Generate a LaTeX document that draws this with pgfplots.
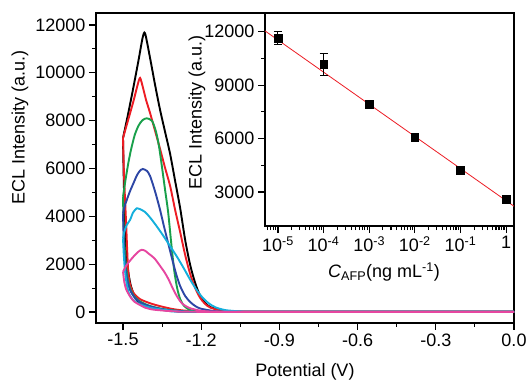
\documentclass[border=0pt]{standalone}
\usepackage{fontspec}
\setmainfont{Liberation Sans}
\usepackage{pgfplots}
\pgfplotsset{compat=1.18}
\definecolor{cRed}{RGB}{237,28,36}
\definecolor{cGreen}{RGB}{25,160,75}
\definecolor{cBlue}{RGB}{45,70,165}
\definecolor{cCyan}{RGB}{20,175,220}
\definecolor{cMag}{RGB}{230,70,160}
\pgfplotsset{every tick label/.append style={font=\fontsize{18}{21}\selectfont},
  every axis label/.append style={font=\fontsize{18}{21}\selectfont}}
\begin{document}
\begin{tikzpicture}[font=\fontsize{18}{21}\selectfont]
\useasboundingbox (-96pt,-57pt) rectangle (432pt,323pt);
\begin{axis}[
  at={(0pt,0pt)}, anchor=south west,
  scale only axis, width=418pt, height=310pt,
  xmin=-1.6036, xmax=0, ymin=-460, ymax=12500,
  scaled y ticks=false, scaled x ticks=false,
  axis line style={line width=1.2pt},
  every tick/.style={line width=1.1pt, black},
  tick align=outside, xtick pos=left, ytick pos=left,
  major tick length=7pt, minor tick length=4pt,
  xtick={-1.5,-1.2,-0.9,-0.6,-0.3,0},
  xticklabels={-1.5,-1.2,-0.9,-0.6,-0.3,0.0},
  minor x tick num=1,
  ytick={0,2000,4000,6000,8000,10000,12000}, minor y tick num=1,
  /pgf/number format/1000 sep={},
  /pgf/number format/assume math mode=true,
  xlabel={Potential (V)}, ylabel={ECL Intensity (a.u.)},
  xlabel style={at={(axis description cs:0.5,-0.158)}, anchor=center},
  ylabel style={at={(axis description cs:-0.182,0.63)}, anchor=center},
  every axis plot/.append style={line width=1.9pt, smooth, tension=0.45},
]
% black
\addplot[black] coordinates {(-1.5,7270) (-1.48,8300) (-1.46,9400) (-1.44,10550) (-1.425,11450) (-1.4154,11650) (-1.3962,10620) (-1.3769,9491) (-1.3577,8446) (-1.3385,7526) (-1.3192,6606) (-1.3,5477) (-1.2808,4348) (-1.2615,3010) (-1.2423,1965) (-1.2231,1212) (-1.2038,669) (-1.1846,376) (-1.1654,209) (-1.1269,84) (-1.0885,21) (-1.0,8) (0,8)};
\addplot[black] coordinates {(-1.5,7270) (-1.497,5500) (-1.494,4200) (-1.49,3000) (-1.485,2200) (-1.479,1617) (-1.47,1100) (-1.455,650) (-1.435,350) (-1.409,222) (-1.37,120) (-1.32,60) (-1.25,25) (-1.15,8) (0,8)};
% red
\addplot[cRed] coordinates {(-1.5,7270) (-1.48,8040) (-1.46,8810) (-1.445,9450) (-1.4346,9784) (-1.4231,9365) (-1.4115,8864) (-1.3962,8320) (-1.3769,7568) (-1.3577,6815) (-1.3385,6020) (-1.3192,5268) (-1.3,4265) (-1.2808,3345) (-1.2615,2383) (-1.2423,1589) (-1.2231,1003) (-1.2038,585) (-1.1846,334) (-1.1654,188) (-1.1269,63) (-1.0885,21) (-1.0,8) (0,8)};
\addplot[cRed] coordinates {(-1.5,7270) (-1.497,6000) (-1.493,4900) (-1.488,3700) (-1.484,2600) (-1.48,1700) (-1.474,1200) (-1.465,900) (-1.454,720) (-1.435,540) (-1.41,420) (-1.38,310) (-1.345,210) (-1.31,125) (-1.27,65) (-1.22,30) (-1.15,12) (0,8)};
% green
\addplot[cGreen] coordinates {(-1.5,4820) (-1.49,5550) (-1.48,6200) (-1.47,6750) (-1.455,7400) (-1.44,7800) (-1.425,8020) (-1.4088,8098) (-1.3885,7986) (-1.3731,7526) (-1.3615,6899) (-1.35,6021) (-1.3385,5101) (-1.3269,4181) (-1.3154,2927) (-1.3038,1756) (-1.2923,1003) (-1.2808,544) (-1.2654,251) (-1.2423,84) (-1.2038,21) (-1.1,8) (0,8)};
\addplot[cGreen] coordinates {(-1.5,4820) (-1.498,3800) (-1.495,2900) (-1.49,2100) (-1.484,1500) (-1.475,1050) (-1.46,700) (-1.44,480) (-1.415,330) (-1.39,230) (-1.36,150) (-1.32,80) (-1.27,35) (-1.2,10) (0,8)};
% blue
\addplot[cBlue] coordinates {(-1.5,4127) (-1.492,4474) (-1.475,5000) (-1.46,5380) (-1.445,5750) (-1.432,5940) (-1.4242,5979) (-1.4077,5895) (-1.3962,5686) (-1.3846,5310) (-1.3731,4892) (-1.3577,4265) (-1.3423,3554) (-1.3269,2885) (-1.3115,2216) (-1.2962,1589) (-1.2808,1087) (-1.2615,669) (-1.2423,418) (-1.2231,251) (-1.2038,146) (-1.1654,63) (-1.1269,21) (-1.0,8) (0,8)};
\addplot[cBlue] coordinates {(-1.5,4127) (-1.498,3300) (-1.495,2500) (-1.49,1800) (-1.483,1300) (-1.472,900) (-1.455,600) (-1.43,380) (-1.4,250) (-1.36,140) (-1.32,70) (-1.27,30) (-1.2,10) (0,8)};
% cyan
\addplot[cCyan] coordinates {(-1.5,3080) (-1.495,3350) (-1.485,3650) (-1.473,3847) (-1.462,4150) (-1.454,4265) (-1.4473,4336) (-1.435,4300) (-1.4154,4181) (-1.3962,3950) (-1.3731,3620) (-1.3462,3200) (-1.3192,2750) (-1.2923,2300) (-1.2654,1800) (-1.2423,1350) (-1.2192,950) (-1.1962,620) (-1.1731,380) (-1.1462,200) (-1.1077,80) (-1.05,25) (-0.98,10) (0,8)};
\addplot[cCyan] coordinates {(-1.5,3080) (-1.497,2400) (-1.493,1800) (-1.487,1250) (-1.478,800) (-1.465,550) (-1.445,380) (-1.42,260) (-1.39,170) (-1.35,100) (-1.3,45) (-1.22,12) (0,8)};
% magenta
\addplot[cMag] coordinates {(-1.5,1685) (-1.486,1965) (-1.46,2313) (-1.44,2530) (-1.428,2600) (-1.415,2560) (-1.403,2452) (-1.38,2250) (-1.358,1930) (-1.34,1650) (-1.326,1380) (-1.306,920) (-1.29,600) (-1.274,363) (-1.255,220) (-1.242,155) (-1.2,50) (-1.15,15) (-1.0,8) (0,8)};
\addplot[cMag] coordinates {(-1.5,1685) (-1.495,1250) (-1.488,950) (-1.48,782) (-1.47,600) (-1.455,420) (-1.435,293) (-1.415,180) (-1.39,110) (-1.37,84) (-1.33,45) (-1.28,20) (-1.2,8) (0,8)};
\end{axis}
\begin{axis}[
  at={(418pt,310pt)}, anchor=north east,
  scale only axis, width=249pt, height=213pt,
  xmode=log, xmin=5.2e-6, xmax=1.49, ymin=1090, ymax=13050,
  scaled y ticks=false,
  axis background/.style={fill=white},
  axis line style={line width=1.2pt},
  every tick/.style={line width=1.1pt, black},
  tick align=outside, xtick pos=left, ytick pos=left,
  major tick length=7pt, minor tick length=4pt,
  xtick={1e-5,1e-4,1e-3,1e-2,1e-1,1},
  xticklabels={10\textsuperscript{-5},10\textsuperscript{-4},10\textsuperscript{-3},10\textsuperscript{-2},10\textsuperscript{-1},1},
  minor xtick={6e-6,7e-6,8e-6,9e-6,2e-5,3e-5,4e-5,5e-5,6e-5,7e-5,8e-5,9e-5,2e-4,3e-4,4e-4,5e-4,6e-4,7e-4,8e-4,9e-4,2e-3,3e-3,4e-3,5e-3,6e-3,7e-3,8e-3,9e-3,2e-2,3e-2,4e-2,5e-2,6e-2,7e-2,8e-2,9e-2,0.2,0.3,0.4,0.5,0.6,0.7,0.8,0.9},
  ytick={3000,6000,9000,12000}, minor y tick num=1,
  /pgf/number format/1000 sep={},
  /pgf/number format/assume math mode=true,
  xlabel={\textit{C}\textsubscript{AFP}(ng mL\textsuperscript{-1})},
  ylabel={ECL Intensity (a.u.)},
  xlabel style={at={(axis description cs:0.478,-0.216)}, anchor=center},
  ylabel style={at={(axis description cs:-0.273,0.535)}, anchor=center},
]
\addplot[cRed, line width=0.8pt] coordinates {(5.2e-6,12046) (1.49,2200)};
\addplot[black, only marks, mark=square*, mark size=3.8pt,
  error bars/.cd, y dir=both, y explicit,
  error mark options={rotate=90, mark size=4pt, line width=1pt},
  error bar style={line width=1pt}]
  coordinates {(1e-5,11650) +- (0,380) (1e-4,10160) +- (0,600) (1e-3,7930) +- (0,120) (1e-2,6060) +- (0,120) (1e-1,4220) +- (0,150) (1,2590) +- (0,120)};
\end{axis}
\end{tikzpicture}
\end{document}
